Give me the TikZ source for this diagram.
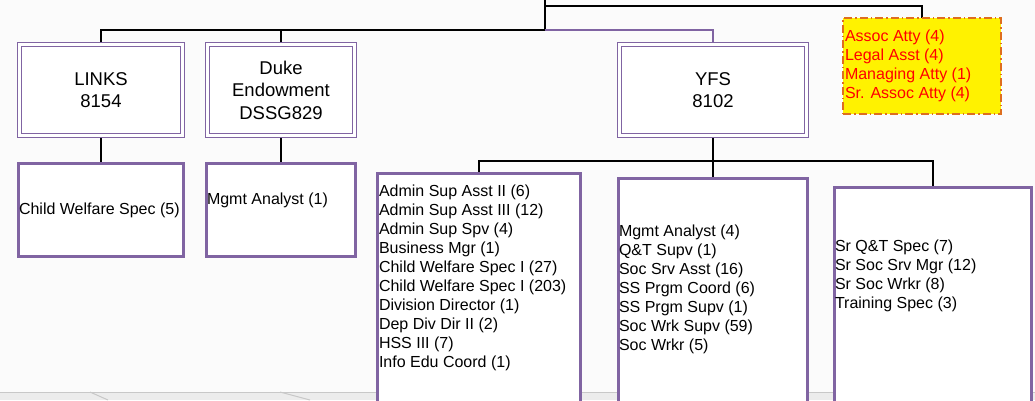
\documentclass[tikz,border=0pt]{standalone}
\usepackage{fontspec}
\setmainfont{Liberation Sans}
\pgfdeclarelayer{bg}
\pgfdeclarelayer{conn}
\pgfsetlayers{bg,conn,main}
\definecolor{boxpurple}{RGB}{128,100,162}
\definecolor{dashorange}{RGB}{222,110,30}
\definecolor{pagebg}{RGB}{251,251,251}
\definecolor{stripgray}{RGB}{236,236,236}
\definecolor{stripline}{RGB}{200,200,200}
\begin{document}
\begin{tikzpicture}[x=1pt,y=-1pt,
  head/.style={draw=boxpurple, line width=1.4pt, double=white, double distance=2.4pt,
    fill=white, inner sep=0pt, outer sep=0pt, align=center,
    font=\fontsize{18.5}{22.5}\selectfont},
  leaf/.style={draw=boxpurple, line width=2.8pt, fill=white, inner sep=0pt, outer sep=0pt},
  lst/.style={inner sep=0pt, outer sep=0pt, align=left, anchor=west,
    font=\fontsize{16}{19}\selectfont},
  connector/.style={draw=black, line width=2pt},
  legal/.style={draw=dashorange, line width=1.6pt, fill=yellow, inner sep=0pt, outer sep=0pt,
    dash pattern=on 8pt off 3pt on 1.5pt off 3pt}
]
\useasboundingbox (0,0) rectangle (1035,400);
\begin{pgfonlayer}{bg}
  \fill[pagebg] (0,0) rectangle (1035,400);
  \fill[stripgray] (0,392) rectangle (1035,400);
  \draw[stripline, line width=1pt] (0,392) -- (1035,392);
  \draw[stripline, line width=1pt] (90,392) -- (108,400);
  \draw[stripline, line width=1pt] (280,392) -- (310,400);
\end{pgfonlayer}

% head boxes
\node[head, minimum width=163pt, minimum height=91pt] (links) at (101,90) {LINKS\\8154};
\node[head, minimum width=147pt, minimum height=91pt] (duke) at (281,90) {Duke\\Endowment\\DSSG829};
\node[head, minimum width=187pt, minimum height=91pt] (yfs) at (713,90) {YFS\\8102};

% legal box
\node[legal, minimum width=158pt, minimum height=96pt] (legalbox) at (922,66) {};
\node[lst, text=red] (legaltxt) at (845,66) {Assoc Atty (4)\\Legal Asst (4)\\Managing Atty (1)\\Sr. Assoc Atty (4)};

% leaf boxes
\node[leaf, minimum width=165pt, minimum height=93pt] (c1) at (101,210) {};
\node[lst] (c1t) at (19,210) {Child Welfare Spec (5)};
\node[leaf, minimum width=149pt, minimum height=93pt] (c2) at (281,210) {};
\node[lst] (c2t) at (207,200) {Mgmt Analyst (1)};

\node[leaf, minimum width=203pt, minimum height=247pt] (y1) at (479,297) {};
\node[lst] (y1t) at (379,277.5) {Admin Sup Asst II (6)\\Admin Sup Asst III (12)\\Admin Sup Spv (4)\\Business Mgr (1)\\Child Welfare Spec I (27)\\Child Welfare Spec I (203)\\Division Director (1)\\Dep Div Dir II (2)\\HSS III (7)\\Info Edu Coord (1)};

\node[leaf, minimum width=189pt, minimum height=242pt] (y2) at (713,299.5) {};
\node[lst] (y2t) at (619,289) {Mgmt Analyst (4)\\Q\&T Supv (1)\\Soc Srv Asst (16)\\SS Prgm Coord (6)\\SS Prgm Supv (1)\\Soc Wrk Supv (59)\\Soc Wrkr (5)};

\node[leaf, minimum width=197pt, minimum height=233pt] (y3) at (933,304) {};
\node[lst] (y3t) at (835,275.5) {Sr Q\&T Spec (7)\\Sr Soc Srv Mgr (12)\\Sr Soc Wrkr (8)\\Training Spec (3)};

% connectors
\coordinate (top) at (545,0);
\coordinate (j0) at (545,6);
\coordinate (j1) at (545,30);
\coordinate (j2) at (713,161);
\begin{pgfonlayer}{conn}
  \draw[connector] (top) -- (j1);
  \draw[connector] (j1) -| (links.north);
  \draw[connector] (j1) -| (duke.north);
  \draw[draw=boxpurple, line width=2pt] (j1) -| (yfs.north);
  \draw[connector] (j0) -| (legalbox.north);
  \draw[connector] (links.south) -- (c1.north);
  \draw[connector] (duke.south) -- (c2.north);
  \draw[connector] (yfs.south) -- (j2);
  \draw[connector] (j2) -| (y1.north);
  \draw[connector] (j2) -- (y2.north);
  \draw[connector] (j2) -| (y3.north);
\end{pgfonlayer}
\end{tikzpicture}
\end{document}
